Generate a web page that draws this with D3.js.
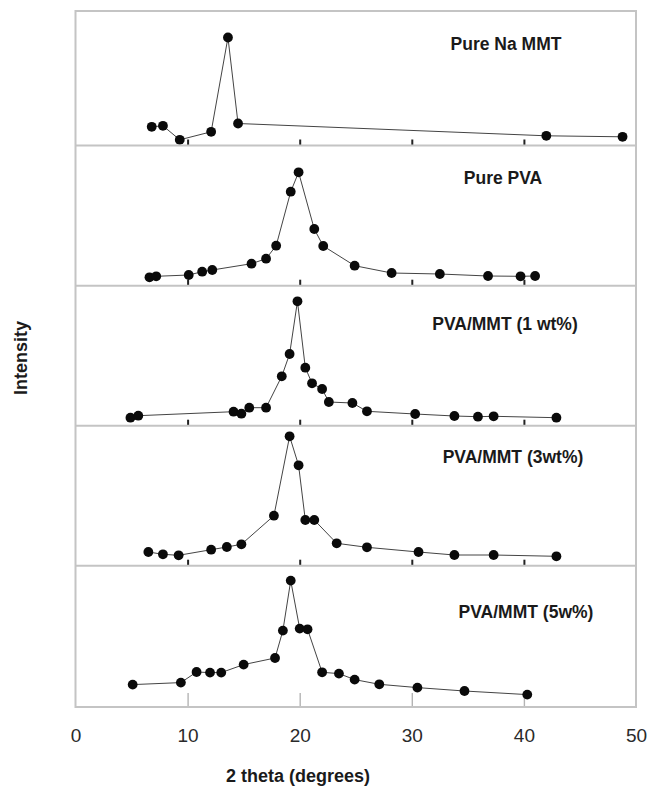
<!DOCTYPE html>
<html>
<head>
<meta charset="utf-8">
<script src="https://cdn.jsdelivr.net/npm/d3@7"></script>
<style>
  html, body { margin: 0; padding: 0; background: #fff; }
  svg { display: block; }
  text { font-family: "Liberation Sans", Arial, sans-serif; }
</style>
</head>
<body>
<svg id="chart" width="647" height="788"></svg>
<script>
// XRD patterns: 2θ (degrees) and relative intensity (arbitrary units)
const sampleNames = ["Pure Na MMT", "Pure PVA", "PVA/MMT (1 wt%)", "PVA/MMT (3wt%)", "PVA/MMT (5w%)"];

const mmtTheta = [6.8, 7.8, 9.3, 12.1, 13.6, 14.5, 42.0, 48.8];
const mmtIntensity = [18.7, 19.7, 5.7, 13.7, 108, 22, 9.7, 8.7];

const pvaTheta = [6.6, 7.2, 10.1, 11.3, 12.2, 15.7, 17.0, 17.9, 19.2, 19.9, 21.3, 22.1, 24.9, 28.2, 32.5, 36.8, 39.7, 41.0];
const pvaIntensity = [8.4, 9.4, 10.7, 14, 15.7, 22, 27, 40, 94, 113.4, 56.7, 39.7, 20, 12.7, 11.7, 9.7, 9.4, 9.7];

const pva1Theta = [4.9, 5.6, 14.1, 14.8, 15.5, 17.0, 18.4, 19.1, 19.8, 20.5, 21.1, 22.0, 22.6, 24.7, 26.0, 30.3, 33.8, 35.9, 37.3, 42.9];
const pva1Intensity = [8, 10, 14, 12, 18, 18, 49.4, 71.7, 124.4, 58, 42.4, 36.7, 23.7, 22.7, 14.4, 11.7, 9.7, 9, 9.4, 8];

const pva3Theta = [6.5, 7.8, 9.2, 12.1, 13.5, 14.8, 17.7, 19.1, 19.9, 20.5, 21.3, 23.3, 26.0, 30.6, 33.8, 37.3, 42.9];
const pva3Intensity = [13.7, 11.4, 10.4, 16, 18.7, 21.4, 50, 129.4, 100.4, 45.7, 45.7, 22.4, 18.4, 13.7, 10.7, 10.7, 9.4];

const pva5Theta = [5.1, 9.4, 10.8, 12.0, 13.0, 15.0, 17.8, 18.5, 19.2, 20.0, 20.7, 22.0, 23.5, 24.9, 27.1, 30.5, 34.7, 40.3];
const pva5Intensity = [22.4, 24.4, 35, 34.4, 34.4, 42.4, 49, 76.4, 126.4, 78.4, 77.7, 34.7, 33.4, 27.4, 22.7, 19.4, 16, 12.4];

const xTicks = [0, 10, 20, 30, 40, 50];
const xTitle = "2 theta (degrees)";
const yTitle = "Intensity";

const series = [
  { name: sampleNames[0], theta: mmtTheta, intensity: mmtIntensity },
  { name: sampleNames[1], theta: pvaTheta, intensity: pvaIntensity },
  { name: sampleNames[2], theta: pva1Theta, intensity: pva1Intensity },
  { name: sampleNames[3], theta: pva3Theta, intensity: pva3Intensity },
  { name: sampleNames[4], theta: pva5Theta, intensity: pva5Intensity }
];

// ---- layout ----
const frameLeft = 75.5, frameRight = 636;
const panelEdges = [11, 145.5, 285.7, 425.7, 565.7, 707];
const labelPos = [[506, 50], [503, 184], [505, 330], [513, 463], [526, 618]];

const svg = d3.select("#chart");
const x = d3.scaleLinear().domain([0, 50]).range([frameLeft, frameRight]);

series.forEach((s, i) => {
  const top = panelEdges[i], bottom = panelEdges[i + 1];
  const y = d3.scaleLinear().domain([0, 140]).range([bottom, bottom - 140]);
  const g = svg.append("g");

  // inner tick marks along the panel floor
  const inner = g.append("g")
    .attr("transform", `translate(0,${bottom})`)
    .call(d3.axisTop(x).tickValues([10, 20, 30, 40]).tickSizeInner(i === 4 ? 14 : 6).tickSizeOuter(0).tickFormat(""));
  inner.select(".domain").remove();
  inner.selectAll(".tick line")
    .attr("stroke", i === 4 ? "#b4b4b4" : "#222")
    .attr("stroke-width", i === 4 ? 1.4 : 2);

  const pts = s.theta.map((t, k) => [t, s.intensity[k]]);
  g.append("path")
    .datum(pts)
    .attr("fill", "none")
    .attr("stroke", "#444")
    .attr("stroke-width", 1)
    .attr("d", d3.line().x(d => x(d[0])).y(d => y(d[1])));

  g.selectAll("circle")
    .data(pts)
    .join("circle")
    .attr("cx", d => x(d[0]))
    .attr("cy", d => y(d[1]))
    .attr("r", 4.9)
    .attr("fill", "#0a0a0a");

  g.append("text")
    .attr("x", labelPos[i][0])
    .attr("y", labelPos[i][1])
    .attr("text-anchor", "middle")
    .attr("font-size", 17.5)
    .attr("font-weight", "bold")
    .attr("fill", "#1a1a1a")
    .text(s.name);
});

// panel separators and outer frame
svg.append("g").selectAll("line")
  .data(panelEdges.slice(1, -1))
  .join("line")
  .attr("x1", frameLeft).attr("x2", frameRight)
  .attr("y1", d => d).attr("y2", d => d)
  .attr("stroke", "#c4c4c4").attr("stroke-width", 2);

svg.append("rect")
  .attr("x", frameLeft).attr("y", panelEdges[0])
  .attr("width", frameRight - frameLeft)
  .attr("height", panelEdges[panelEdges.length - 1] - panelEdges[0])
  .attr("fill", "none")
  .attr("stroke", "#c4c4c4").attr("stroke-width", 2);

// bottom axis labels
const xAxis = svg.append("g")
  .attr("transform", `translate(0,${panelEdges[5]})`)
  .call(d3.axisBottom(x).tickValues(xTicks).tickSize(0).tickPadding(22));
xAxis.select(".domain").remove();
xAxis.selectAll(".tick text")
  .attr("font-family", "Liberation Sans, Arial, sans-serif")
  .attr("font-size", 19)
  .attr("fill", "#2a2a2a");

svg.append("text")
  .attr("x", 298).attr("y", 782)
  .attr("text-anchor", "middle")
  .attr("font-size", 18)
  .attr("font-weight", "bold")
  .attr("fill", "#1a1a1a")
  .text(xTitle);

svg.append("text")
  .attr("transform", "translate(27,358) rotate(-90)")
  .attr("text-anchor", "middle")
  .attr("font-size", 18)
  .attr("font-weight", "bold")
  .attr("fill", "#1a1a1a")
  .text(yTitle);
</script>
</body>
</html>
